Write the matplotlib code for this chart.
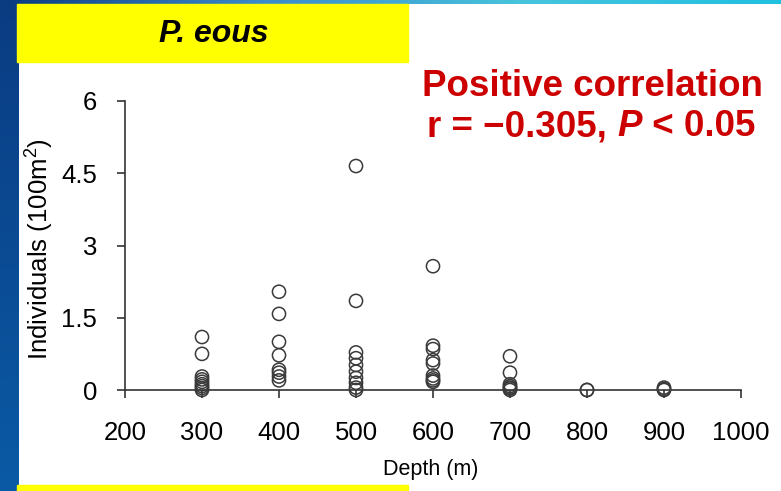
import numpy as np
import matplotlib
matplotlib.use("Agg")
import matplotlib.pyplot as plt
from matplotlib.patches import Rectangle
from matplotlib.colors import LinearSegmentedColormap

plt.rcParams['font.family'] = ['Liberation Sans', 'DejaVu Sans']
plt.rcParams['mathtext.fontset'] = 'custom'
plt.rcParams['mathtext.rm'] = 'Liberation Sans'
plt.rcParams['mathtext.it'] = 'Liberation Sans:italic'
plt.rcParams['mathtext.bf'] = 'Liberation Sans:bold'

# data: individuals per 100 m2 at each depth
depths = [300, 400, 500, 600, 700, 800, 900]
individuals = [
    [1.10, 0.75, 0.28, 0.22, 0.17, 0.12, 0.08, 0.04, 0.0],
    [2.04, 1.58, 1.00, 0.72, 0.42, 0.36, 0.28, 0.20],
    [4.65, 1.85, 0.78, 0.66, 0.52, 0.38, 0.25, 0.15, 0.05, 0.0],
    [2.57, 0.92, 0.85, 0.62, 0.55, 0.30, 0.24, 0.20, 0.17],
    [0.70, 0.36, 0.12, 0.08, 0.05, 0.03, 0.0],
    [0.0, 0.0],
    [0.05, 0.02, 0.0],
]
x_ticks = [200, 300, 400, 500, 600, 700, 800, 900, 1000]
y_ticks = [0, 1.5, 3, 4.5, 6]
y_tick_labels = ["0", "1.5", "3", "4.5", "6"]

W, H = 781, 491
fig = plt.figure(figsize=(W / 100, H / 100), dpi=100)
fig.patch.set_facecolor("white")

# slide decoration: blue strips at top and left
grad = np.linspace(0, 1, 256).reshape(1, -1)
top = fig.add_axes([0, 1 - 4 / H, 1, 4 / H])
top_cmap = LinearSegmentedColormap.from_list("top", ["#0a3a80", "#3a8cc8", "#48c4dc", "#20c0e0"])
top.imshow(grad, aspect="auto", cmap=top_cmap)
top.axis("off")

left = fig.add_axes([0, 0, 19 / W, 1 - 4 / H])
left_cmap = LinearSegmentedColormap.from_list("left", ["#0a3c82", "#0a5aa5"])
left.imshow(grad.T, aspect="auto", cmap=left_cmap)
left.axis("off")

# yellow boxes
fig.patches.append(Rectangle((17 / W, 1 - 62 / H), 391 / W, 58 / H,
                             transform=fig.transFigure, color="#ffff00", zorder=1))
fig.patches.append(Rectangle((17 / W, 0), 391 / W, 6 / H,
                             transform=fig.transFigure, color="#ffff00", zorder=1))
fig.text(214 / W, 1 - 34 / H, "P. eous", fontsize=23, fontweight="bold",
         fontstyle="italic", ha="center", va="center")

# scatter plot
ax = fig.add_axes([125 / W, 1 - 390 / H, 616 / W, 289 / H])
ax.set_facecolor("none")
for d, vals in zip(depths, individuals):
    ax.scatter([d] * len(vals), vals, s=90, facecolors="none",
               edgecolors="#3a3a3a", linewidths=1.1, clip_on=False, zorder=3)

ax.set_xlim(200, 1000)
ax.set_ylim(0, 6)
ax.set_xticks(x_ticks)
ax.set_yticks(y_ticks)
ax.set_yticklabels(y_tick_labels)
for s in ["top", "right"]:
    ax.spines[s].set_visible(False)
for s in ["left", "bottom"]:
    ax.spines[s].set_color("#333333")
    ax.spines[s].set_linewidth(1.2)
ax.tick_params(axis="x", direction="out", length=6, width=1.2, color="#333333",
               labelsize=18.5, pad=16)
ax.tick_params(axis="y", direction="out", length=6, width=1.2, color="#333333",
               labelsize=18.5, pad=14)

fig.text(40 / W, 1 - 249 / H, "Individuals (100m$^{2}$)", fontsize=18.5,
         rotation=90, ha="center", va="center")
fig.text(431 / W, 1 - 469 / H, "Depth (m)", fontsize=15.5, ha="center", va="center")

# red annotation
red = "#cc0000"
fig.text(592 / W, 1 - 86 / H, "Positive correlation", fontsize=26.5,
         fontweight="bold", color=red, ha="center", va="center")

pieces = [("r = \u22120.305, ", "normal"), ("P", "italic"), (" < 0.05", "normal")]
renderer = fig.canvas.get_renderer()
texts = []
for s, style in pieces:
    t = fig.text(0, 1 - 127 / H, s, fontsize=26.5, fontweight="bold",
                 fontstyle=style, color=red, ha="left", va="center")
    texts.append(t)
widths = [t.get_window_extent(renderer).width for t in texts]
x0 = 591 - sum(widths) / 2
for t, w in zip(texts, widths):
    t.set_x(x0 / W)
    x0 += w

fig.savefig("out.png", dpi=100)
